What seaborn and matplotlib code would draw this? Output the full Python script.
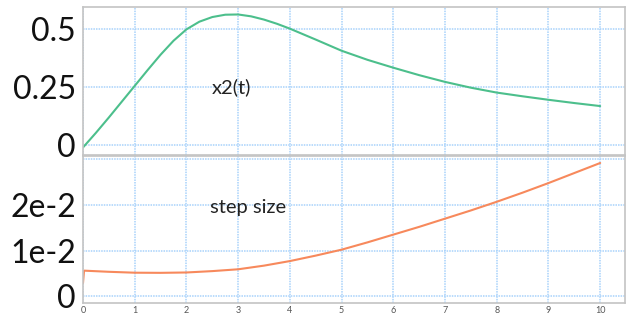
import numpy as np
import pandas as pd
import matplotlib
matplotlib.use("Agg")
import matplotlib.pyplot as plt
import seaborn as sns

# data
t_x2 = [0, 0.25, 0.5, 0.75, 1, 1.25, 1.5, 1.75, 2, 2.25, 2.5, 2.75, 3, 3.25, 3.5, 3.75, 4, 4.5, 5,
        5.5, 6, 6.5, 7, 7.5, 8, 8.5, 9, 9.5, 10]
x2 = [-0.011, 0.052, 0.118, 0.186, 0.254, 0.322, 0.388, 0.448, 0.497, 0.530, 0.550, 0.560, 0.561, 0.553, 0.539, 0.521, 0.500, 0.453, 0.405,
      0.366, 0.332, 0.300, 0.271, 0.246, 0.225, 0.209, 0.194, 0.180, 0.167]

t_h = [0, 0.02, 0.5, 1, 1.5, 2, 2.5, 3, 3.5, 4, 4.5, 5,
       5.5, 6, 6.5, 7, 7.5, 8, 8.5, 9, 9.5, 10]
h = [0.0029, 0.0056, 0.00535, 0.00515, 0.00512, 0.0052, 0.0055, 0.0059, 0.0067, 0.0077, 0.0089, 0.0102,
     0.0118, 0.0135, 0.0152, 0.0170, 0.0188, 0.0207, 0.0227, 0.0248, 0.0270, 0.0292]

x_ticks = list(range(0, 11))
top_yticks = [0, 0.25, 0.5]
top_ylabels = ["0", "0.25", "0.5"]
bot_yticks = [0, 0.01, 0.02]
bot_ylabels = ["0", "1e-2", "2e-2"]

sns.set_style("white")
plt.rcParams["font.family"] = ["Lato", "DejaVu Sans"]

fig = plt.figure(figsize=(6.27, 3.2), dpi=100)
ax1 = fig.add_axes([0.1324, 0.516, 0.8644, 0.462])
ax2 = fig.add_axes([0.1324, 0.053, 0.8644, 0.459])

green = "#4cbf8c"
orange = "#f7895c"
gridc = "#a8d2fb"
framec = "#c4c4c4"

df1 = pd.DataFrame({"t": t_x2, "x2": x2})
df2 = pd.DataFrame({"t": t_h, "h": h})
sns.lineplot(data=df1, x="t", y="x2", ax=ax1, color=green, lw=1.5)
sns.lineplot(data=df2, x="t", y="h", ax=ax2, color=orange, lw=1.5)

for ax in (ax1, ax2):
    ax.set_xlim(0, 10.48)
    ax.set_xticks(x_ticks)
    ax.grid(True, color=gridc, linestyle=(0, (1, 0.7)), lw=1.1)
    ax.set_xlabel("")
    ax.set_ylabel("")
    for s in ax.spines.values():
        s.set_color(framec)
        s.set_linewidth(1.2)
    ax.tick_params(axis="y", length=0, labelsize=23, pad=5, labelcolor="#111111")

ax1.set_ylim(-0.043, 0.593)
ax1.set_yticks(top_yticks)
ax1.set_yticklabels(top_ylabels)
ax1.tick_params(axis="x", length=0, labelbottom=False)

ax2.set_ylim(-0.0015, 0.0307)
ax2.set_yticks(bot_yticks + [0.03])
ax2.set_yticklabels(bot_ylabels + [""])
ax2.tick_params(axis="x", length=0, labelsize=6.5, pad=2, labelcolor="#555555")

ax1.text(2.48, 0.25, "x2(t)", fontsize=14.5, color="#222222", va="center", ha="left")
ax2.text(2.45, 0.0195, "step size", fontsize=14.5, color="#222222", va="center", ha="left")

fig.savefig("out.png", dpi=100)
